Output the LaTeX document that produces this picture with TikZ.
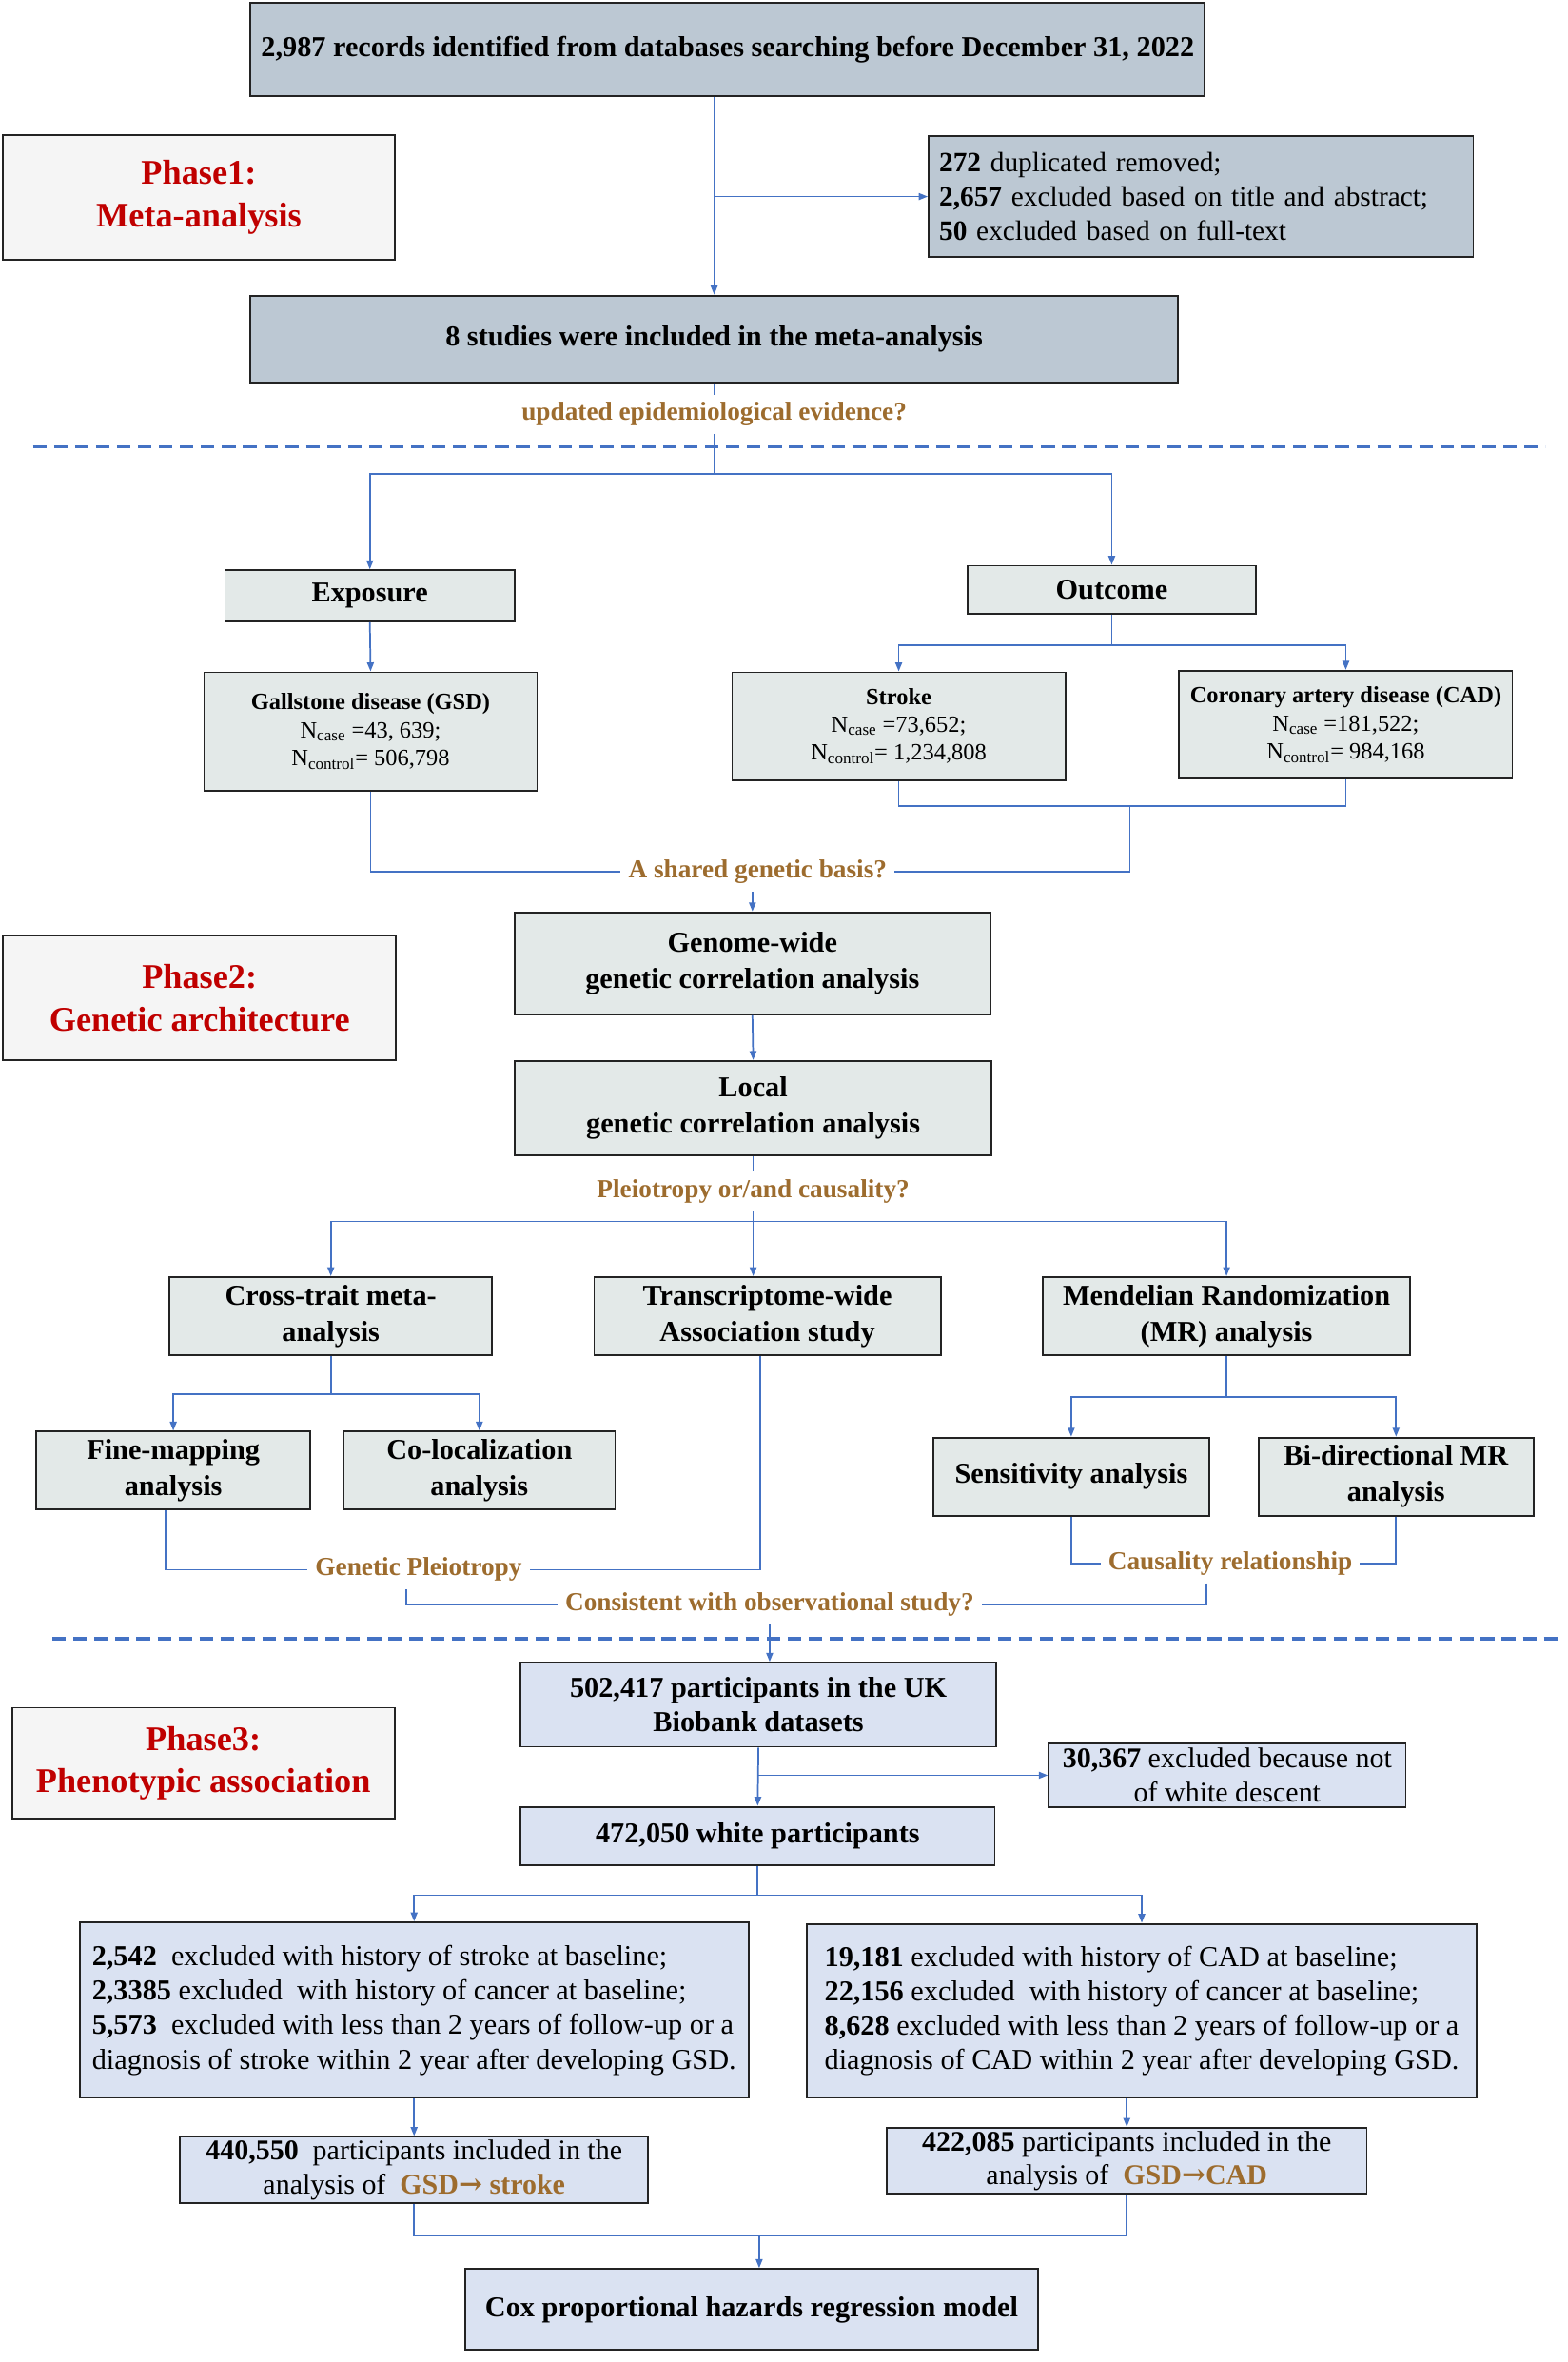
\documentclass[tikz,border=0pt]{standalone}
\usepackage{fontspec}
\setmainfont{Liberation Serif}
\newfontfamily\symfont{DejaVu Serif}
\usetikzlibrary{arrows.meta}

\definecolor{metafill}{RGB}{188,200,211}
\definecolor{gfill}{RGB}{227,233,232}
\definecolor{ufill}{RGB}{218,226,242}
\definecolor{phasefill}{RGB}{245,245,245}
\definecolor{boxline}{RGB}{35,35,35}
\definecolor{phred}{RGB}{192,0,0}
\definecolor{gold}{RGB}{157,108,46}
\definecolor{flow}{RGB}{68,114,196}

\tikzset{
  box/.style={draw=boxline, line width=1.2pt, align=center, inner sep=3pt},
  metabox/.style={box, fill=metafill, font=\fontsize{19.2}{23}\selectfont\bfseries},
  gbox/.style={box, fill=gfill, font=\fontsize{19.2}{24}\selectfont\bfseries},
  ubox/.style={box, fill=ufill, font=\fontsize{19.2}{23}\selectfont\bfseries},
  numbox/.style={box, font=\fontsize{15.5}{18.5}\selectfont, fill=gfill},
  phase/.style={box, fill=phasefill, text=phred, font=\fontsize{23}{28}\selectfont\bfseries},
  lab/.style={text=gold, font=\fontsize{17.3}{20}\selectfont\bfseries, inner sep=5pt},
  line/.style={draw=flow, line width=1.1pt},
  arr/.style={line, -{Triangle[length=6pt,width=4.5pt]}},
  divider/.style={draw=flow, line width=2pt, dash pattern=on 9pt off 5pt}
}

\begin{document}
\begin{tikzpicture}[x=1pt, y=-1pt]
% \draw [help lines] (0,0) grid (1045,1574) ;
\useasboundingbox (0,0) rectangle (1045,1574);
\fill[white] (0,0) rectangle (1045,1574);

% phase 1
\node[metabox, minimum width=636, minimum height=62] (records) at (485,33)
  {2,987 records identified from databases searching before December 31, 2022};
\node[phase, minimum width=261, minimum height=83] (phaseone) at (132.5,131.5) {Phase1:\\Meta-analysis};
\node[box, fill=metafill, font=\fontsize{18.6}{23}\selectfont, align=left, text width=349, inner xsep=7pt,
  minimum height=81] (excla) at (800.5,131)
  {\textbf{272} duplicated removed;\\\textbf{2,657} excluded based on title and abstract;\\\textbf{50} excluded based on full-text};
\node[metabox, minimum width=618, minimum height=58] (studies) at (476,226) {8 studies were included in the meta-analysis};
\node[lab] (upd) at (476,276) {updated epidemiological evidence?};

\draw[divider] (22,298) -- (1030,298);

% phase 2
\node[gbox, minimum width=193, minimum height=34] (exposure) at (246.5,397) {Exposure};
\node[gbox, minimum width=192, minimum height=32] (outcome) at (741,393) {Outcome};
\node[numbox, minimum width=222, minimum height=79] (gsd) at (247,487.5)
  {\textbf{Gallstone disease (GSD)}\\N\textsubscript{case} =43, 639;\\N\textsubscript{control}= 506,798};
\node[numbox, minimum width=222, minimum height=72] (stroke) at (599,484)
  {\textbf{Stroke}\\N\textsubscript{case} =73,652;\\N\textsubscript{control}= 1,234,808};
\node[numbox, minimum width=222, minimum height=72] (cad) at (897,483)
  {\textbf{Coronary artery disease (CAD)}\\N\textsubscript{case} =181,522;\\N\textsubscript{control}= 984,168};
\node[lab] (shared) at (505,581) {A shared genetic basis?};
\node[gbox, minimum width=317, minimum height=68] (genome) at (501.5,642) {Genome-wide\\genetic correlation analysis};
\node[phase, minimum width=262, minimum height=83] (phasetwo) at (133,665) {Phase2:\\Genetic architecture};
\node[gbox, minimum width=318, minimum height=63] (local) at (502,738.5) {Local\\genetic correlation analysis};
\node[lab] (pleio) at (502,794) {Pleiotropy or/and causality?};
\node[gbox, minimum width=215, minimum height=52] (cross) at (220.5,877) {Cross-trait meta-\\analysis};
\node[gbox, minimum width=231, minimum height=52] (twas) at (511.5,877) {Transcriptome-wide\\Association study};
\node[gbox, minimum width=245, minimum height=52] (mr) at (817.5,877) {Mendelian Randomization\\(MR) analysis};
\node[gbox, minimum width=183, minimum height=52] (fine) at (115.5,980) {Fine-mapping\\analysis};
\node[gbox, minimum width=181, minimum height=52] (coloc) at (319.5,980) {Co-localization\\analysis};
\node[gbox, minimum width=184, minimum height=52] (sens) at (714,984) {Sensitivity analysis};
\node[gbox, minimum width=183, minimum height=52] (bidir) at (930.5,984) {Bi-directional MR\\analysis};
\node[lab] (gp) at (279,1046) {Genetic Pleiotropy};
\node[lab] (causal) at (820,1042) {Causality relationship};
\node[lab] (consist) at (513,1069) {Consistent with observational study?};

\draw[divider] (35,1092) -- (1040,1092);

% phase 3
\node[ubox, minimum width=317, minimum height=56] (ukb) at (505.5,1136) {502,417 participants in the UK\\Biobank datasets};
\node[phase, minimum width=255, minimum height=74] (phasethree) at (135.5,1175) {Phase3:\\Phenotypic association};
\node[ubox, font=\fontsize{19}{23}\selectfont, minimum width=238, minimum height=42, inner sep=0pt] (exclb) at (818,1183)
  {\textbf{30,367} excluded because not\\of white descent};
\node[ubox, minimum width=316, minimum height=39] (white) at (505,1223.5) {472,050 white participants};
\node[ubox, font=\fontsize{19.2}{23}\selectfont, align=left, minimum width=446, minimum height=117] (exstroke) at (276,1339.5)
  {\textbf{2,542}\ \ excluded with history of stroke at baseline;\\
   \textbf{2,3385} excluded\ \ with history of cancer at baseline;\\
   \textbf{5,573}\ \ excluded with less than 2 years of follow-up or a\\
   diagnosis of stroke within 2 year after developing GSD.};
\node[ubox, font=\fontsize{19.2}{23}\selectfont, align=left, minimum width=446, minimum height=116] (excad) at (761,1340)
  {\textbf{19,181} excluded with history of CAD at baseline;\\
   \textbf{22,156} excluded\ \ with history of cancer at baseline;\\
   \textbf{8,628} excluded with less than 2 years of follow-up or a\\
   diagnosis of CAD within 2 year after developing GSD.};
\node[ubox, font=\fontsize{19}{22.5}\selectfont, minimum width=312, minimum height=44, inner sep=0pt] (incstroke) at (276,1446)
  {\textbf{440,550}\ \ participants included in the\\analysis of\ \ \textcolor{gold}{\textbf{GSD{\symfont\bfseries→} stroke}}};
\node[ubox, font=\fontsize{19}{22.5}\selectfont, minimum width=320, minimum height=44, inner sep=0pt] (inccad) at (751,1440)
  {\textbf{422,085} participants included in the\\analysis of\ \ \textcolor{gold}{\textbf{GSD{\symfont\bfseries→}CAD}}};
\node[ubox, minimum width=382, minimum height=54] (cox) at (501,1539) {Cox proportional hazards regression model};

% junctions
\coordinate (ja) at (476,316);
\coordinate (jb) at (741,430);
\coordinate (jc) at (753,537);
\coordinate (jd) at (502,814);
\coordinate (je) at (220.5,929);
\coordinate (jf) at (817.5,931);
\coordinate (jg) at (505,1263);
\coordinate (jh) at (506,1490);

% connectors, phase 1
\draw[arr] (studies.north |- records.south) -- (studies.north);
\draw[arr] (studies.north |- excla.west) -- (excla.west);
\draw[line] (studies.south) -- (upd.north);
\draw[line] (upd.south) -- (ja);
\draw[arr] (ja) -| (exposure.north);
\draw[arr] (ja) -| (outcome.north);

% connectors, phase 2
\draw[arr] (exposure.south) -- (gsd.north);
\draw[line] (outcome.south) -- (jb);
\draw[arr] (jb) -| (stroke.north);
\draw[arr] (jb) -| (cad.north);
\draw[line] (stroke.south) |- (jc) -| (cad.south);
\draw[line] (jc) |- (shared.east);
\draw[line] (gsd.south) |- (shared.west);
\draw[arr] (shared.south -| genome.north) -- (genome.north);
\draw[arr] (genome.south) -- (local.north);
\draw[line] (local.south) -- (pleio.north);
\draw[line] (pleio.south) -- (jd);
\draw[arr] (jd) -| (cross.north);
\draw[arr] (jd) -- (jd |- twas.north);
\draw[arr] (jd) -| (mr.north);
\draw[line] (cross.south) -- (je);
\draw[arr] (je) -| (fine.north);
\draw[arr] (je) -| (coloc.north);
\draw[line] (mr.south) -- (jf);
\draw[arr] (jf) -| (sens.north);
\draw[arr] (jf) -| (bidir.north);
\draw[line] ([xshift=-5pt]fine.south) |- (gp.west);
\draw[line] ([xshift=-5pt]twas.south) |- (gp.east);
\draw[line] (sens.south) |- (causal.west);
\draw[line] (bidir.south) |- (causal.east);
\draw[line] ([xshift=-8pt]gp.south) |- (consist.west);
\draw[line] ([xshift=-16pt]causal.south) |- (consist.east);

% connectors, phase 3
\draw[arr] (consist.south) -- (consist.south |- ukb.north);
\draw[arr] (ukb.south) -- (white.north);
\draw[arr] (ukb.south |- exclb.west) -- (exclb.west);
\draw[line] (white.south) -- (jg);
\draw[arr] (jg) -| (exstroke.north);
\draw[arr] (jg) -| (excad.north);
\draw[arr] (exstroke.south) -- (incstroke.north);
\draw[arr] (inccad.north |- excad.south) -- (inccad.north);
\draw[line] (incstroke.south) |- (jh) -| (inccad.south);
\draw[arr] (jh) -- (jh |- cox.north);
\end{tikzpicture}
\end{document}
